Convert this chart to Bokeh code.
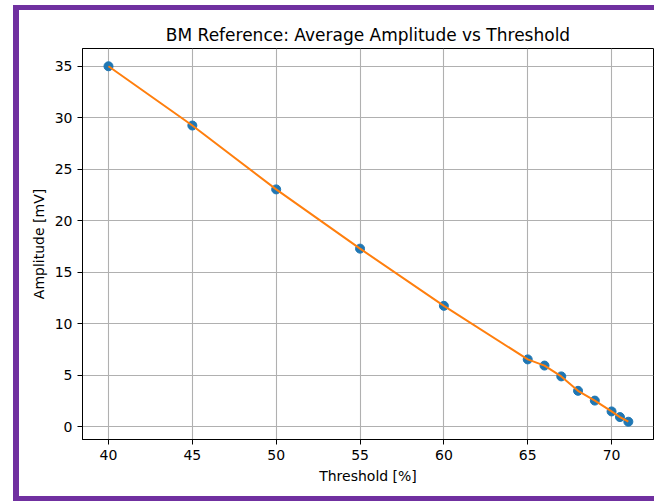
from bokeh.plotting import figure
from bokeh.models import Range1d, FixedTicker
from bokeh.embed import file_html
from bokeh.resources import INLINE

# Measured average amplitude for each detection threshold
threshold = [40, 45, 50, 55, 60, 65, 66, 67, 68, 69, 70, 70.5, 71]
amplitude = [35.0, 29.25, 23.05, 17.3, 11.75, 6.55, 5.95, 4.9, 3.5, 2.55, 1.5, 0.95, 0.5]

x_ticks = [40, 45, 50, 55, 60, 65, 70]
y_ticks = [0, 5, 10, 15, 20, 25, 30, 35]

FONT = "DejaVu Sans"
PURPLE = "#7030A0"

p = figure(
    width=635, height=486,
    x_range=Range1d(38.45, 72.5), y_range=Range1d(-1.225, 36.725),
    title="BM Reference: Average Amplitude vs Threshold",
    output_backend="svg", toolbar_location=None,
    min_border_left=63, min_border_top=38, min_border_bottom=57, min_border_right=1,
)
# purple frame drawn as shadows just outside the canvas (left, top, bottom),
# so the canvas keeps its own size
p.margin = (10, 0, 0, 19)
p.styles = {
    "box-shadow": (
        f"-6px 0 0 0 {PURPLE}, 0 -5px 0 0 {PURPLE}, 0 5px 0 0 {PURPLE}, "
        f"-6px -5px 0 0 {PURPLE}, -6px 5px 0 0 {PURPLE}"
    ),
}

p.background_fill_color = "white"
p.border_fill_color = "white"
p.outline_line_color = "black"
p.outline_line_width = 1

p.title.text_font = FONT
p.title.text_font_size = "17px"
p.title.text_font_style = "normal"
p.title.text_color = "black"
p.title.align = "center"
p.title.standoff = 8

for ax in (p.xaxis[0], p.yaxis[0]):
    ax.axis_line_color = "black"
    ax.major_tick_line_color = "black"
    ax.major_tick_out = 5
    ax.major_tick_in = 0
    ax.minor_tick_line_color = None
    ax.major_label_text_font = FONT
    ax.major_label_text_font_size = "14px"
    ax.major_label_text_color = "black"
    ax.major_label_standoff = 5
    ax.axis_label_text_font = FONT
    ax.axis_label_text_font_size = "14px"
    ax.axis_label_text_font_style = "normal"
    ax.axis_label_text_color = "black"
    ax.axis_label_standoff = 5

p.xaxis.ticker = FixedTicker(ticks=x_ticks)
p.yaxis.ticker = FixedTicker(ticks=y_ticks)
p.xaxis.axis_label = "Threshold [%]"
p.yaxis.axis_label = "Amplitude [mV]"

p.grid.grid_line_color = "#b0b0b0"
p.grid.grid_line_width = 1.1

p.scatter(threshold, amplitude, size=9, color="#1f77b4")
p.line(threshold, amplitude, line_color="#ff7f0e", line_width=2)

open("out.html", "w").write(file_html(p, INLINE))
